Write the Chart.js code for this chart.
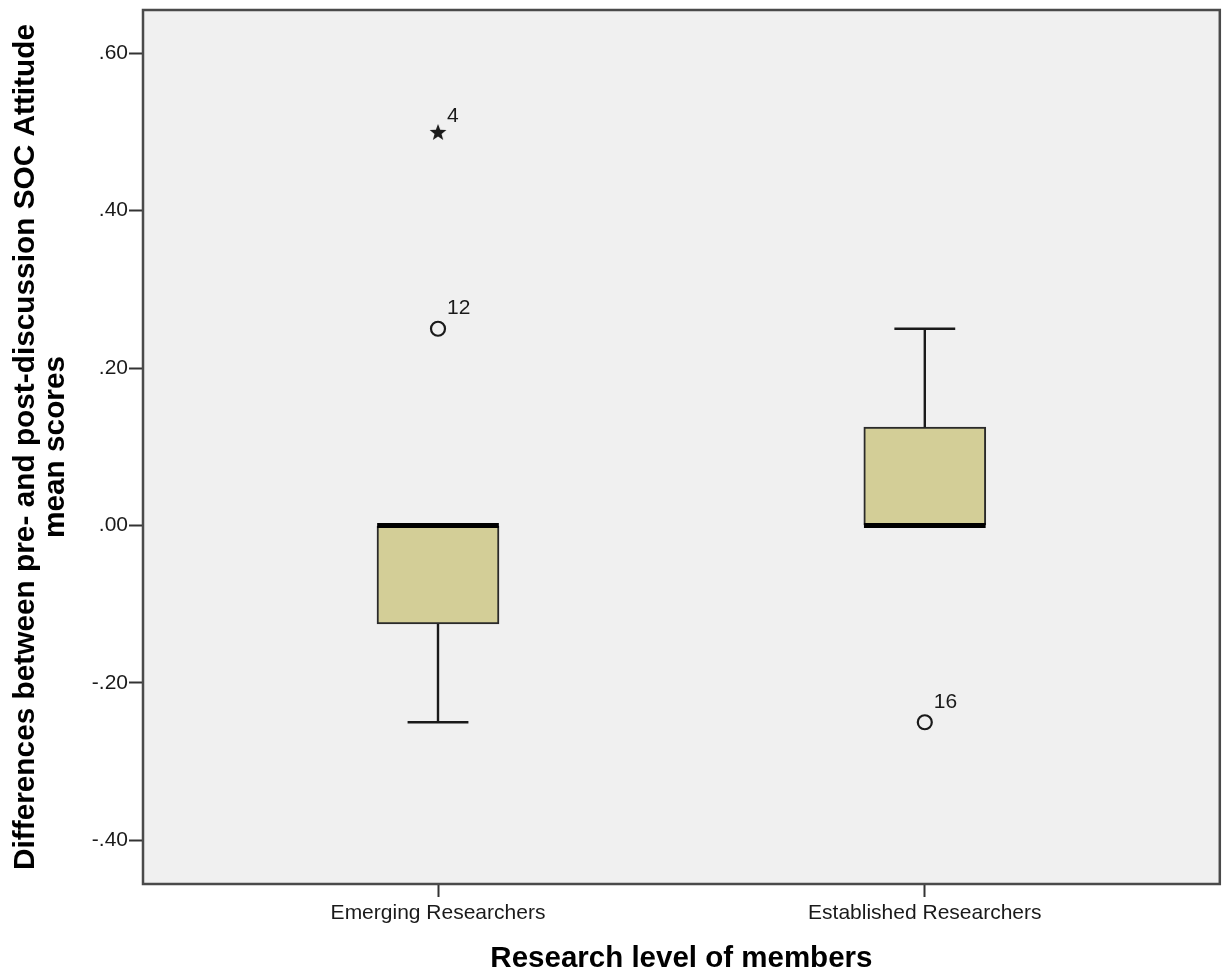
<!DOCTYPE html>
<html>
<head>
<meta charset="utf-8">
<script src="https://cdn.jsdelivr.net/npm/chart.js@4.4.1/dist/chart.umd.min.js"></script>
<style>
  html, body { margin: 0; padding: 0; background: #ffffff; }
  #wrap { width: 1229px; height: 976px; position: relative; }
</style>
</head>
<body>
<div id="wrap"><canvas id="chart" width="1229" height="976"></canvas></div>
<script>
// Box plot of attitude score differences by research level
const categories = ['Emerging Researchers', 'Established Researchers'];
const categoryPos = [1, 2];

// five-number summaries per group
const q1 = [-0.125, 0.0];
const median = [0.0, 0.0];
const q3 = [0.0, 0.125];
const whiskerLow = [-0.25, 0.0];
const whiskerHigh = [0.0, 0.25];

// outlying cases: group index, value, case label, kind
const outlierGroup = [0, 0, 1];
const outlierValue = [0.25, 0.50, -0.25];
const outlierLabel = ['12', '4', '16'];
const outlierKind = ['circle', 'extreme', 'circle'];

// value axis ticks
const yTickValues = [0.6, 0.4, 0.2, 0.0, -0.2, -0.4];
const yTickLabels = ['.60', '.40', '.20', '.00', '-.20', '-.40'];

// styling
const BOX_FILL = 'rgb(211,206,151)';
const INK = '#1a1a1a';
const FRAME = '#4a4a4a';
const PLOT_BG = '#f0f0f0';
const BOX_W = 0.25;     // box width, in category units
const CAP_W = 0.125;    // whisker cap width, in category units
const FONT = '"Liberation Sans", Arial, sans-serif';

// five-pointed star used for extreme values
function makeStar(outer, inner, color) {
  const size = Math.ceil(outer * 2 + 2);
  const c = document.createElement('canvas');
  c.width = size; c.height = size;
  const g = c.getContext('2d');
  g.fillStyle = color;
  g.beginPath();
  for (let i = 0; i < 10; i++) {
    const r = i % 2 === 0 ? outer : inner;
    const a = -Math.PI / 2 + i * Math.PI / 5;
    const px = size / 2 + r * Math.cos(a);
    const py = size / 2 + 0.8 + r * Math.sin(a);
    if (i === 0) g.moveTo(px, py); else g.lineTo(px, py);
  }
  g.closePath();
  g.fill();
  return c;
}
const starImg = makeStar(8.8, 3.7, INK);

const datasets = [];

// boxes (floating bars from Q1 to Q3)
datasets.push({
  type: 'bar',
  label: 'box',
  data: categoryPos.map((x, i) => ({ x: x, y: [q1[i], q3[i]] })),
  backgroundColor: BOX_FILL,
  borderColor: '#2a2a2a',
  borderWidth: 2,
  borderSkipped: false,
  barThickness: 122,
  order: 4
});

// whisker stems and caps
categoryPos.forEach((x, i) => {
  const segs = [];
  if (whiskerLow[i] < q1[i]) {
    segs.push([{ x: x, y: q1[i] }, { x: x, y: whiskerLow[i] }]);
    segs.push([{ x: x - CAP_W / 2, y: whiskerLow[i] }, { x: x + CAP_W / 2, y: whiskerLow[i] }]);
  }
  if (whiskerHigh[i] > q3[i]) {
    segs.push([{ x: x, y: q3[i] }, { x: x, y: whiskerHigh[i] }]);
    segs.push([{ x: x - CAP_W / 2, y: whiskerHigh[i] }, { x: x + CAP_W / 2, y: whiskerHigh[i] }]);
  }
  segs.forEach(s => datasets.push({
    type: 'line',
    label: 'whisker',
    data: s,
    borderColor: INK,
    borderWidth: 2.4,
    pointRadius: 0,
    fill: false,
    order: 3
  }));
});

// medians
categoryPos.forEach((x, i) => {
  datasets.push({
    type: 'line',
    label: 'median',
    data: [{ x: x - BOX_W / 2, y: median[i] }, { x: x + BOX_W / 2, y: median[i] }],
    borderColor: '#000000',
    borderWidth: 5,
    borderCapStyle: 'butt',
    pointRadius: 0,
    fill: false,
    order: 2
  });
});

// outliers
const outlierPoints = outlierValue.map((v, k) => ({ x: categoryPos[outlierGroup[k]], y: v }));
datasets.push({
  type: 'scatter',
  label: 'outliers',
  data: outlierPoints,
  pointStyle: outlierKind.map(k => k === 'extreme' ? starImg : 'circle'),
  pointRadius: 7,
  pointBorderWidth: 2.2,
  pointBorderColor: INK,
  pointBackgroundColor: 'rgba(0,0,0,0)',
  showLine: false,
  order: 1
});

// plot background and frame
const framePlugin = {
  id: 'frame',
  beforeDraw(chart) {
    const { ctx, chartArea: a } = chart;
    ctx.save();
    ctx.fillStyle = PLOT_BG;
    ctx.fillRect(a.left, a.top, a.right - a.left, a.bottom - a.top);
    ctx.restore();
  },
  afterDraw(chart) {
    const { ctx, chartArea: a } = chart;
    ctx.save();
    ctx.strokeStyle = FRAME;
    ctx.lineWidth = 2.5;
    ctx.strokeRect(a.left, a.top, a.right - a.left, a.bottom - a.top);
    ctx.restore();
  }
};

// case numbers next to outlying points
const caseLabelPlugin = {
  id: 'caseLabels',
  afterDatasetsDraw(chart) {
    const idx = chart.data.datasets.findIndex(d => d.label === 'outliers');
    const meta = chart.getDatasetMeta(idx);
    const ctx = chart.ctx;
    ctx.save();
    ctx.font = '21px ' + FONT;
    ctx.fillStyle = INK;
    ctx.textAlign = 'left';
    ctx.textBaseline = 'middle';
    meta.data.forEach((pt, k) => {
      const dy = outlierKind[k] === 'extreme' ? -16 : -20.5;
      ctx.fillText(outlierLabel[k], pt.x + 9, pt.y + dy);
    });
    ctx.restore();
  }
};

new Chart(document.getElementById('chart'), {
  type: 'bar',
  data: { datasets: datasets },
  options: {
    responsive: false,
    animation: false,
    events: [],
    layout: { padding: { top: 10, right: 7, left: 0, bottom: 0 } },
    plugins: { legend: { display: false }, tooltip: { enabled: false } },
    scales: {
      x: {
        type: 'linear',
        min: 0.394,
        max: 2.606,
        offset: false,
        afterFit(scale) {
          scale.height = 92;
          scale.paddingLeft = 0;
          scale.paddingRight = 0;
        },
        afterBuildTicks(scale) { scale.ticks = categoryPos.map(v => ({ value: v })); },
        ticks: {
          autoSkip: false,
          maxRotation: 0,
          padding: 4,
          color: INK,
          font: { family: FONT, size: 21 },
          callback: (v, i) => categories[i]
        },
        grid: {
          offset: false,
          drawOnChartArea: false,
          drawTicks: true,
          tickLength: 13,
          tickWidth: 2,
          tickColor: '#333333',
          color: '#333333'
        },
        border: { display: false },
        title: {
          display: true,
          text: 'Research level of members',
          color: '#000000',
          font: { family: FONT, size: 29.5, weight: 'bold', lineHeight: 1.05 },
          padding: { top: 4, bottom: 2 }
        }
      },
      y: {
        type: 'linear',
        min: -0.4555,
        max: 0.655,
        afterFit(scale) {
          scale.width = 143;
          scale.paddingTop = 0;
          scale.paddingBottom = 0;
        },
        afterBuildTicks(scale) { scale.ticks = yTickValues.map(v => ({ value: v })); },
        ticks: {
          autoSkip: false,
          padding: 1,
          color: INK,
          font: { family: FONT, size: 21 },
          callback: (v, i) => yTickLabels[i]
        },
        grid: {
          drawOnChartArea: false,
          drawTicks: true,
          tickLength: 14,
          tickWidth: 2,
          tickColor: '#333333',
          color: '#333333'
        },
        border: { display: false },
        title: {
          display: true,
          text: ['Differences between pre- and post-discussion SOC Attitude', 'mean scores'],
          color: '#000000',
          font: { family: FONT, size: 29.8, weight: 'bold', lineHeight: 1.03 },
          padding: { top: 10, bottom: 0 }
        }
      }
    }
  },
  plugins: [framePlugin, caseLabelPlugin]
});
</script>
</body>
</html>
